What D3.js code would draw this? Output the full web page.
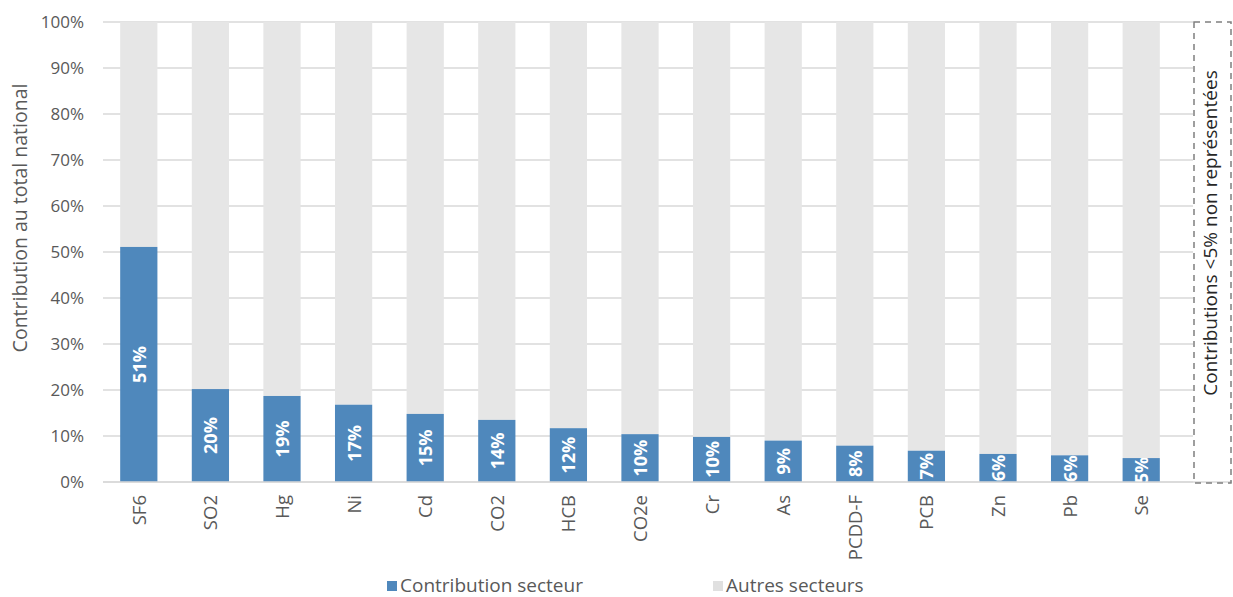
<!DOCTYPE html>
<html><head><meta charset="utf-8">
<script src="https://cdn.jsdelivr.net/npm/d3@7"></script>
<style>body{margin:0;background:#fff}svg{display:block}text{font-family:"Open Sans",sans-serif}</style>
</head><body>
<svg id="c" width="1233" height="597"></svg>
<script>
const categories = ["SF6","SO2","Hg","Ni","Cd","CO2","HCB","CO2e","Cr","As","PCDD-F","PCB","Zn","Pb","Se"];
const secteurValues = [0.511,0.202,0.187,0.168,0.148,0.135,0.117,0.104,0.098,0.090,0.079,0.068,0.061,0.058,0.052];
const labelValues = ["51%","20%","19%","17%","15%","14%","12%","10%","10%","9%","8%","7%","6%","6%","5%"];
const yTicks = [0,0.1,0.2,0.3,0.4,0.5,0.6,0.7,0.8,0.9,1.0];
const seriesNames = ["Contribution secteur","Autres secteurs"];
const noteText = "Contributions <5% non représentées";

const svg = d3.select("#c");
const pLeft = 103, pTop = 22, pBottom = 482, bandW = 71.6;
const x = d3.scaleBand().domain(categories).range([pLeft, pLeft + bandW*categories.length]).paddingInner(0.48).paddingOuter(0.24);
const y = d3.scaleLinear().domain([0,1]).range([pBottom, pTop]);
const blue = "#4f88bc", gray = "#e6e6e6", grid = "#d9d9d9", txt = "#595959";
const gridRight = 1193;

// gridlines
svg.append("g").selectAll("line").data(yTicks).join("line")
  .attr("x1", pLeft).attr("x2", gridRight)
  .attr("y1", d => y(d)).attr("y2", d => y(d))
  .attr("stroke", grid).attr("stroke-width", 1.5);

// y axis labels
const yAxis = d3.axisLeft(y).tickValues(yTicks).tickFormat(d3.format(".0%")).tickSize(0).tickPadding(0);
const ya = svg.append("g").attr("transform", `translate(${pLeft-19},0)`).call(yAxis);
ya.select(".domain").remove();
ya.selectAll("text").attr("fill", txt).style("font-size", "17px").style("font-family", "'Open Sans',sans-serif");

// bars
const g = svg.append("g");
g.selectAll(".other").data(categories).join("rect")
  .attr("x", d => x(d)).attr("width", x.bandwidth())
  .attr("y", y(1)).attr("height", (d,i) => y(secteurValues[i]) - y(1))
  .attr("fill", gray);
g.selectAll(".sect").data(categories).join("rect")
  .attr("x", d => x(d)).attr("width", x.bandwidth())
  .attr("y", (d,i) => y(secteurValues[i])).attr("height", (d,i) => y(0) - y(secteurValues[i]))
  .attr("fill", blue);

// baseline
svg.append("line").attr("x1", pLeft).attr("x2", 1232).attr("y1", y(0)).attr("y2", y(0))
  .attr("stroke", grid).attr("stroke-width", 1.5);

// value labels (clipped to their bar)
const defs = svg.append("defs");
categories.forEach((c,i) => {
  defs.append("clipPath").attr("id", "cl"+i).append("rect")
    .attr("x", x(c)).attr("width", x.bandwidth())
    .attr("y", y(secteurValues[i])).attr("height", y(0)-y(secteurValues[i]));
});
g.selectAll(".lblg").data(categories).join("g")
  .attr("clip-path", (d,i) => `url(#cl${i})`)
  .append("text")
  .attr("transform", (d,i) => `translate(${x(d)+x.bandwidth()/2+7},${(y(secteurValues[i])+y(0))/2}) rotate(-90)`)
  .attr("text-anchor", "middle").attr("fill", "#fff")
  .style("font-size", "18px").style("font-weight", "bold")
  .text((d,i) => labelValues[i]);

// x labels
svg.append("g").selectAll("text").data(categories).join("text")
  .attr("transform", d => `translate(${x(d)+x.bandwidth()/2+7},${pBottom+13}) rotate(-90)`)
  .attr("text-anchor", "end").attr("fill", txt).style("font-size", "18.5px")
  .text(d => d);

// y title
svg.append("text").attr("transform", `translate(27,218) rotate(-90)`)
  .attr("text-anchor", "middle").attr("fill", txt).style("font-size", "19.5px")
  .text("Contribution au total national");

// dashed note box
svg.append("rect").attr("x", 1194).attr("y", 22).attr("width", 37).attr("height", 461)
  .attr("fill", "none").attr("stroke", "#7f7f7f").attr("stroke-width", 1.5).attr("stroke-dasharray", "6,5");
svg.append("text").attr("transform", `translate(1217,233) rotate(-90)`)
  .attr("text-anchor", "middle").attr("fill", "#262626").style("font-size", "19px")
  .text(noteText);

// legend
const legX = [387, 713], legColors = [blue, "#e0e0e0"];
const lg = svg.append("g").selectAll("g").data(seriesNames).join("g")
  .attr("transform", (d,i) => `translate(${legX[i]},581)`);
lg.append("rect").attr("width", 10).attr("height", 10).attr("fill", (d,i) => legColors[i]);
lg.append("text").attr("x", 13).attr("y", 10.5).attr("fill", txt).style("font-size", "19px").text(d => d);
</script>
</body></html>
